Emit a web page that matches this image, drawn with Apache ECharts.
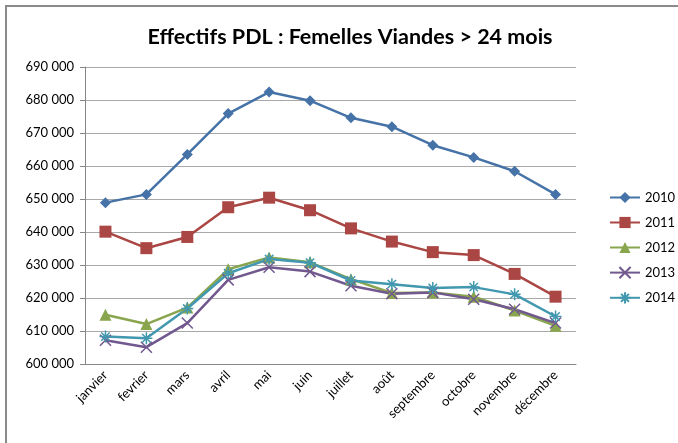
<!DOCTYPE html>
<html>
<head>
<meta charset="utf-8">
<script src="https://cdn.jsdelivr.net/npm/echarts@6/dist/echarts.min.js"></script>
<style>
  html, body { margin: 0; padding: 0; background: #fff; }
  #chart { width: 678px; height: 443px; }
</style>
</head>
<body>
<div id="chart"></div>
<script>
const months = ['janvier', 'fevrier', 'mars', 'avril', 'mai', 'juin', 'juillet', 'août', 'septembre', 'octobre', 'novembre', 'décembre']
const years = ['2010', '2011', '2012', '2013', '2014']
const s2010 = [648900, 651400, 663500, 675900, 682400, 679800, 674600, 671900, 666300, 662600, 658400, 651400]
const s2011 = [640100, 635100, 638500, 647500, 650400, 646600, 641100, 637100, 633900, 633000, 627300, 620400]
const s2012 = [614900, 612100, 617100, 628700, 632300, 630800, 625700, 621500, 621700, 620400, 616200, 611600]
const s2013 = [607200, 605100, 612400, 625500, 629300, 628000, 623700, 621300, 621700, 619600, 616600, 612400]
const s2014 = [608300, 607800, 616800, 627500, 631800, 630700, 625300, 624200, 623000, 623300, 621100, 614400]
const yTicks = { min: 600000, max: 690000, interval: 10000 }

const colors = ['#4572A7', '#AA4643', '#89A54E', '#71588F', '#4198AF']
const xPath = 'path://M0,0 L10,10 M10,0 L0,10'
const starPath = 'path://M5,0 L5,10 M0,5 L10,5 M1.5,1.5 L8.5,8.5 M8.5,1.5 L1.5,8.5'
const symbols = ['diamond', 'rect', 'triangle', xPath, starPath]
const sizes = [11, 12, 12, 11, 12]
const data = [s2010, s2011, s2012, s2013, s2014]

const chart = echarts.init(document.getElementById('chart'))
const font = 'Lato, "Liberation Sans", sans-serif'

const series = years.map((y, i) => {
  const hollow = i >= 3
  return {
    name: y,
    type: 'line',
    data: data[i],
    symbol: symbols[i],
    symbolSize: sizes[i],
    showAllSymbol: true,
    lineStyle: { color: colors[i], width: 2.5 },
    itemStyle: hollow
      ? { color: 'transparent', borderColor: colors[i], borderWidth: 1.5 }
      : { color: colors[i], borderColor: colors[i], borderWidth: 0 }
  }
})

const option = {
  animation: false,
  color: colors,
  textStyle: { fontFamily: font },
  title: {
    text: 'Effectifs PDL : Femelles Viandes > 24 mois',
    left: 345,
    top: 21,
    textAlign: 'center',
    textStyle: { fontFamily: font, fontSize: 21.5, fontWeight: 'bold', color: '#000' }
  },
  graphic: [{
    type: 'rect',
    shape: { x: 6, y: 6, width: 700, height: 500 },
    style: { fill: 'none', stroke: '#8a8a8a', lineWidth: 2 },
    silent: true
  }],
  legend: {
    orient: 'vertical',
    left: 604,
    top: 186,
    itemGap: 12,
    itemWidth: 30,
    itemHeight: 14,
    textStyle: { fontFamily: font, fontSize: 13, color: '#000' },
    data: years
  },
  grid: { left: 85, right: 102, top: 67, bottom: 79 },
  xAxis: {
    type: 'category',
    data: months,
    boundaryGap: true,
    axisLine: { lineStyle: { color: '#868686' } },
    axisTick: { alignWithLabel: false, length: 5, lineStyle: { color: '#868686' } },
    axisLabel: { rotate: 45, fontFamily: font, fontSize: 13, color: '#000', margin: 9, interval: 0 }
  },
  yAxis: {
    type: 'value',
    min: yTicks.min,
    max: yTicks.max,
    interval: yTicks.interval,
    axisLine: { show: true, lineStyle: { color: '#868686' } },
    axisTick: { show: true, length: 5, lineStyle: { color: '#868686' } },
    splitLine: { lineStyle: { color: '#a8a8a8' } },
    axisLabel: {
      fontFamily: font,
      fontSize: 13,
      color: '#000',
      margin: 11,
      formatter: v => String(v).replace(/\B(?=(\d{3})+(?!\d))/g, ' ')
    }
  },
  series: series
}
chart.setOption(option)
</script>
</body>
</html>
